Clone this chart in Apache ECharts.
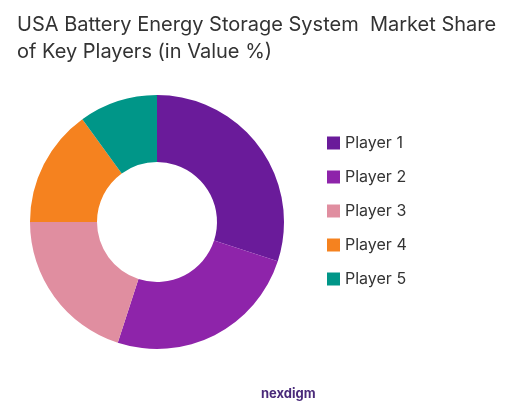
<!DOCTYPE html><html><head><meta charset="utf-8"><script src="https://cdn.jsdelivr.net/npm/echarts@6/dist/echarts.min.js"></script></head><body style="margin:0;background:#fff"><div id="c" style="width:526px;height:415px"></div><script>
const categories=["Player 1","Player 2","Player 3","Player 4","Player 5"];
const values=[30,25,20,15,10];
const colors=["#6a1b9a","#8e24aa","#e08ea0","#f5821f","#009688"];
const ch=echarts.init(document.getElementById('c'));
ch.setOption({
title:[{text:"USA Battery Energy Storage System  Market Share\nof Key Players (in Value %)",left:12,top:6,textStyle:{fontFamily:"Inter",fontWeight:"normal",fontSize:20,lineHeight:27,color:"#333"}},
{text:"nexdigm",left:256,top:383,textStyle:{fontFamily:"Inter",fontSize:13,fontWeight:"bold",color:"#4a2a7a"}}],
legend:{orient:"vertical",left:322,top:130,itemGap:18,itemWidth:13,itemHeight:13,icon:"rect",textStyle:{fontFamily:"Inter",fontSize:16,color:"#333"},data:categories},
series:[{type:"pie",center:[157,222],radius:[60,127],startAngle:90,clockwise:true,label:{show:false},silent:true,
data:categories.map((n,i)=>({name:n,value:values[i],itemStyle:{color:colors[i]}}))}]
});
</script></body></html>
